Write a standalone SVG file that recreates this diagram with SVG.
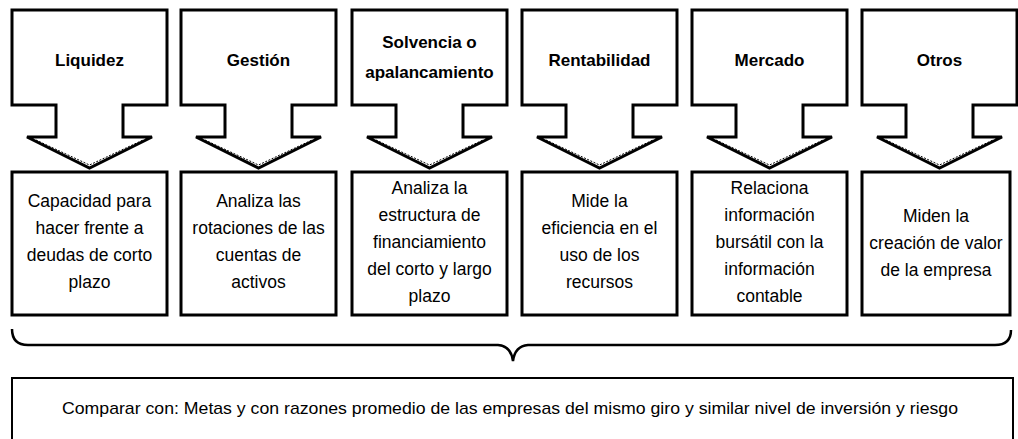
<svg xmlns="http://www.w3.org/2000/svg" width="1018" height="439" viewBox="0 0 1018 439">
<style>
.shape{fill:#fff;stroke:#000;stroke-width:3;stroke-linejoin:miter}
.bevel{fill:none;stroke:#000;stroke-width:1;stroke-dasharray:2 1.5}
.title{font-family:"Liberation Sans",Arial,sans-serif;font-weight:bold;font-size:17px;text-anchor:middle;fill:#000}
.desc{font-family:"Liberation Sans",Arial,sans-serif;font-size:17.5px;text-anchor:middle;fill:#000}
.note{font-family:"Liberation Sans",Arial,sans-serif;font-size:17px;text-anchor:middle;fill:#000}
</style>
<defs>
<path id="callout" d="M0,10 H155 V105 H111 V137 H140 L77.5,168 L15,137 H44 V105 H0 Z"/>
</defs>
<rect width="1018" height="439" fill="#fff"/>

<g id="liquidez" transform="translate(12,0)">
<use href="#callout" class="shape"/>
<path class="bevel" d="M24,140 L77.5,165 L131,140"/>
<text class="title" x="77.5" y="66">Liquidez</text>
<rect class="shape" x="0" y="172" width="155" height="143"/>
<text class="desc" x="77.5" y="207">Capacidad para</text>
<text class="desc" x="77.5" y="234">hacer frente a</text>
<text class="desc" x="77.5" y="261">deudas de corto</text>
<text class="desc" x="77.5" y="288">plazo</text>
</g>

<g id="gestion" transform="translate(181,0)">
<use href="#callout" class="shape"/>
<path class="bevel" d="M24,140 L77.5,165 L131,140"/>
<text class="title" x="77.5" y="66">Gestión</text>
<rect class="shape" x="0" y="172" width="155" height="143"/>
<text class="desc" x="77.5" y="207">Analiza las</text>
<text class="desc" x="77.5" y="234">rotaciones de las</text>
<text class="desc" x="77.5" y="261">cuentas de</text>
<text class="desc" x="77.5" y="288">activos</text>
</g>

<g id="solvencia" transform="translate(352,0)">
<use href="#callout" class="shape"/>
<path class="bevel" d="M24,140 L77.5,165 L131,140"/>
<text class="title" x="77.5" y="48">Solvencia o</text>
<text class="title" x="77.5" y="78">apalancamiento</text>
<rect class="shape" x="0" y="172" width="155" height="143"/>
<text class="desc" x="77.5" y="194">Analiza la</text>
<text class="desc" x="77.5" y="221">estructura de</text>
<text class="desc" x="77.5" y="248">financiamiento</text>
<text class="desc" x="77.5" y="275">del corto y largo</text>
<text class="desc" x="77.5" y="302">plazo</text>
</g>

<g id="rentabilidad" transform="translate(522,0)">
<use href="#callout" class="shape"/>
<path class="bevel" d="M24,140 L77.5,165 L131,140"/>
<text class="title" x="77.5" y="66">Rentabilidad</text>
<rect class="shape" x="0" y="172" width="155" height="143"/>
<text class="desc" x="77.5" y="207">Mide la</text>
<text class="desc" x="77.5" y="234">eficiencia en el</text>
<text class="desc" x="77.5" y="261">uso de los</text>
<text class="desc" x="77.5" y="288">recursos</text>
</g>

<g id="mercado" transform="translate(692,0)">
<use href="#callout" class="shape"/>
<path class="bevel" d="M24,140 L77.5,165 L131,140"/>
<text class="title" x="77.5" y="66">Mercado</text>
<rect class="shape" x="0" y="172" width="155" height="143"/>
<text class="desc" x="77.5" y="194">Relaciona</text>
<text class="desc" x="77.5" y="221">información</text>
<text class="desc" x="77.5" y="248">bursátil con la</text>
<text class="desc" x="77.5" y="275">información</text>
<text class="desc" x="77.5" y="302">contable</text>
</g>

<g id="otros" transform="translate(862,0)">
<use href="#callout" class="shape"/>
<path class="bevel" d="M24,140 L77.5,165 L131,140"/>
<text class="title" x="77.5" y="66">Otros</text>
<rect class="shape" x="0" y="172" width="148" height="143"/>
<text class="desc" x="74" y="222">Miden la</text>
<text class="desc" x="74" y="249">creación de valor</text>
<text class="desc" x="74" y="276">de la empresa</text>
</g>

<g id="connectors">
<path d="M12,329 Q12,345 28,345 H498 Q511,346 513,361 Q515,346 528,345 H995 Q1011,345 1011,330" fill="none" stroke="#000" stroke-width="2.5"/>
</g>

<g id="comparar">
<rect x="12" y="378" width="1001" height="70" fill="#fff" stroke="#000" stroke-width="2"/>
<text class="note" x="510" y="414" textLength="896" lengthAdjust="spacingAndGlyphs">Comparar con: Metas y con razones promedio de las empresas del mismo giro y similar nivel de inversión y riesgo</text>
</g>
</svg>
